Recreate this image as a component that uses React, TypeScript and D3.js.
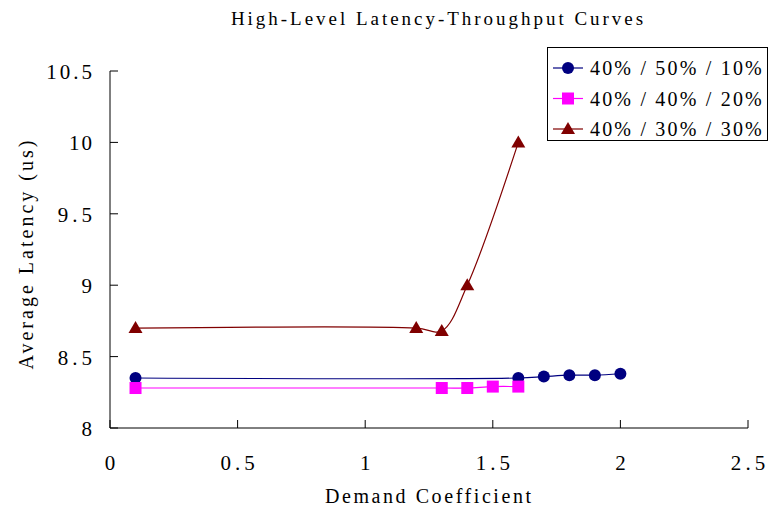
import React from "react";
import * as d3 from "d3";

const xTicks = [0, 0.5, 1, 1.5, 2, 2.5];
const yTicks = [8, 8.5, 9, 9.5, 10, 10.5];

const s1X = [0.1, 1.6, 1.7, 1.8, 1.9, 2.0];
const s1Y = [8.35, 8.35, 8.36, 8.37, 8.37, 8.38];
const s2X = [0.1, 1.3, 1.4, 1.5, 1.6];
const s2Y = [8.28, 8.28, 8.28, 8.29, 8.29];
const s3X = [0.1, 1.2, 1.3, 1.4, 1.6];
const s3Y = [8.7, 8.7, 8.68, 9.0, 10.0];

const seriesNames = ["40% / 50% / 10%", "40% / 40% / 20%", "40% / 30% / 30%"];
const seriesColors = ["#000080", "#FF00FF", "#800000"];
const seriesMarkers = ["circle", "square", "triangle"];

const FONT = "'Liberation Serif', 'DejaVu Serif', serif";
const CW = 11.45; // character cell width (half-width monospace look)

function Marker({ kind, x, y, color }: { kind: string; x: number; y: number; color: string }) {
  if (kind === "circle") return <circle cx={x} cy={y} r={6} fill={color} />;
  if (kind === "square") return <rect x={x - 6} y={y - 6} width={12} height={12} fill={color} />;
  return <path d={`M${x},${y - 7}L${x + 7},${y + 5}L${x - 7},${y + 5}Z`} fill={color} />;
}

function MText(props: { x: number; y: number; s: string; anchor?: string; transform?: string; size?: number }) {
  const len = props.s.length * CW;
  return (
    <text
      x={props.x}
      y={props.y}
      transform={props.transform}
      textAnchor={props.anchor || "start"}
      fontFamily={FONT}
      fontSize={props.size || 20}
      fill="#000"
      textLength={len}
      lengthAdjust="spacing"
    >
      {props.s}
    </text>
  );
}

export default function App() {
  const x = d3.scaleLinear().domain([0, 2.5]).range([110, 748]);
  const y = d3.scaleLinear().domain([8, 10.5]).range([428, 71]);
  const series = [
    { xs: s1X, ys: s1Y },
    { xs: s2X, ys: s2Y },
    { xs: s3X, ys: s3Y },
  ];
  const line = d3
    .line<[number, number]>()
    .x((d) => x(d[0]))
    .y((d) => y(d[1]))
    .curve(d3.curveCatmullRom.alpha(0.5));

  return (
    <svg width={770} height={510} style={{ position: "absolute", left: 0, top: 0, background: "#fff" }}>
      <rect x={0} y={0} width={770} height={510} fill="#fff" />
      <MText x={437} y={25} s="High-Level Latency-Throughput Curves" anchor="middle" size={19} />
      {/* axes */}
      <line x1={x(0)} x2={x(0)} y1={y(10.5)} y2={y(8)} stroke="#000" strokeWidth={1} />
      <line x1={x(0)} x2={x(2.5)} y1={y(8)} y2={y(8)} stroke="#000" strokeWidth={1} />
      {yTicks.map((t) => (
        <g key={"y" + t}>
          <line x1={x(0)} x2={x(0) + 8} y1={y(t)} y2={y(t)} stroke="#000" />
          <MText x={92} y={y(t) + 8} s={String(t)} anchor="end" size={21} />
        </g>
      ))}
      {xTicks.map((t) => (
        <g key={"x" + t}>
          <line x1={x(t)} x2={x(t)} y1={y(8)} y2={y(8) - 8} stroke="#000" />
          <MText x={x(t)} y={470} s={String(t)} anchor="middle" size={21} />
        </g>
      ))}
      <MText x={428} y={503} s="Demand Coefficient" anchor="middle" size={20} />
      <MText x={0} y={0} transform="translate(33,255) rotate(-90)" s="Average Latency (us)" anchor="middle" size={20} />
      {/* series */}
      {series.map((s, i) => {
        const pts: [number, number][] = s.xs.map((v, j) => [v, s.ys[j]]);
        return (
          <g key={"s" + i}>
            <path d={line(pts) || ""} fill="none" stroke={seriesColors[i]} strokeWidth={1.2} />
            {pts.map((p, j) => (
              <Marker key={j} kind={seriesMarkers[i]} x={x(p[0])} y={y(p[1])} color={seriesColors[i]} />
            ))}
          </g>
        );
      })}
      {/* legend */}
      <rect x={547.5} y={47.5} width={220} height={93} fill="#fff" stroke="#000" strokeWidth={1} />
      {seriesNames.map((n, i) => {
        const ly = 68 + i * 30.5;
        return (
          <g key={"l" + i}>
            <line x1={553} x2={583} y1={ly} y2={ly} stroke={seriesColors[i]} strokeWidth={1.2} />
            <Marker kind={seriesMarkers[i]} x={568} y={ly} color={seriesColors[i]} />
            <MText x={590} y={ly + 7} s={n} size={20} />
          </g>
        );
      })}
    </svg>
  );
}
